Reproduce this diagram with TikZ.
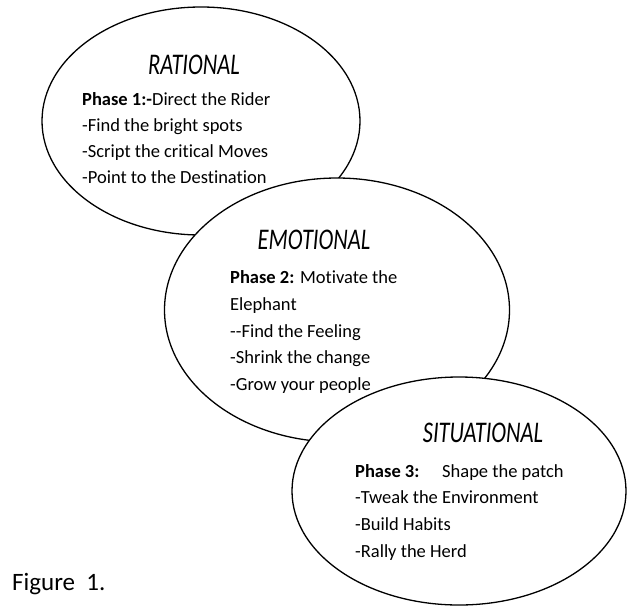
\documentclass[tikz,border=0pt]{standalone}
\usepackage{fontspec}
\setmainfont{Carlito}[Ligatures={NoCommon}]
\usetikzlibrary{shapes.geometric}
\tikzset{
  bubble/.style={ellipse, draw, fill=white, line width=1.3pt, inner sep=0pt, outer sep=0pt},
  ttl/.style={anchor=center, inner sep=0pt, font=\fontsize{30}{30}\selectfont\itshape},
  ln/.style={anchor=base west, inner sep=0pt, font=\fontsize{18.5}{20}\selectfont},
  figcaption/.style={anchor=base west, inner sep=0pt, font=\fontsize{25}{28}\selectfont}
}
\begin{document}
\begin{tikzpicture}[x=1pt,y=-1pt]
\useasboundingbox (0,0) rectangle (627,606);
% ellipse 1
\node[bubble, minimum width=318pt, minimum height=228pt] (e1) at (201,121) {};
\node[ttl] (t1) at (194,65) {\scalebox{0.75}[1]{RATIONAL}};
\node[ln] (a1) at (82,105) {\textbf{Phase 1:-}Direct the Rider};
\node[ln] (a2) at (82,131) {-Find the bright spots};
\node[ln] (a3) at (82,157) {-Script the critical Moves};
\node[ln] (a4) at (82,183) {-Point to the Destination};
% ellipse 2
\node[bubble, minimum width=345pt, minimum height=264pt] (e2) at (337,310) {};
\node[ttl] (t2) at (314,240) {\scalebox{0.75}[1]{EMOTIONAL}};
\node[ln] (b1) at (230,283) {\textbf{Phase 2:} Motivate the};
\node[ln] (b2) at (230,310) {Elephant};
\node[ln] (b3) at (230,337) {-{}-Find the Feeling};
\node[ln] (b4) at (230,363) {-Shrink the change};
\node[ln] (b5) at (230,390) {-Grow your people};
% ellipse 3
\node[bubble, minimum width=334pt, minimum height=228pt] (e3) at (459,491) {};
\node[ttl] (t3) at (483,433) {\scalebox{0.75}[1]{SITUATIONAL}};
\node[ln] (c1) at (355,477) {\textbf{Phase 3:}};
\node[ln] (c1b) at (442,477) {Shape the patch};
\node[ln] (c2) at (355,503) {-Tweak the Environment};
\node[ln] (c3) at (355,530) {-Build Habits};
\node[ln] (c4) at (355,557) {-Rally the Herd};
% caption
\node[figcaption] (fig) at (12,590) {Figure\ \ 1.};
\end{tikzpicture}
\end{document}
